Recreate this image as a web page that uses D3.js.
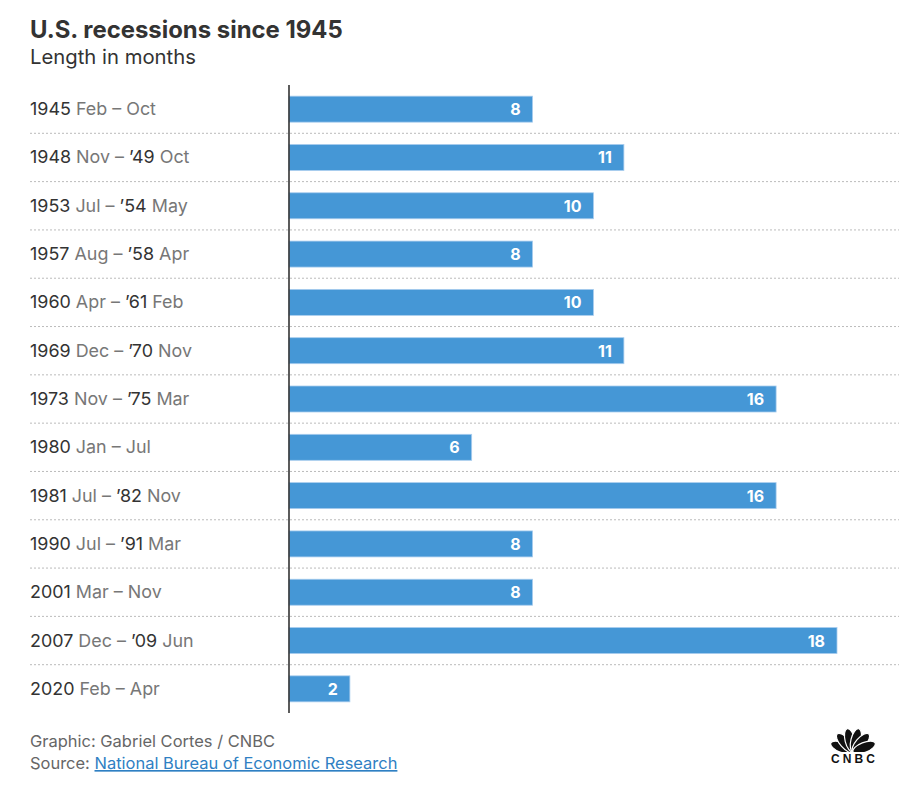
<!DOCTYPE html>
<html><head><meta charset="utf-8">
<script src="https://cdn.jsdelivr.net/npm/d3@7"></script>
<style>body{margin:0;background:#fff;} svg{display:block;font-family:Inter,"Open Sans",sans-serif;}</style>
</head><body>
<svg id="chart" width="899" height="800"></svg>
<script>
const startYears = ["1945","1948","1953","1957","1960","1969","1973","1980","1981","1990","2001","2007","2020"];
const startMonths = ["Feb","Nov","Jul","Aug","Apr","Dec","Nov","Jan","Jul","Jul","Mar","Dec","Feb"];
const endYears = ["","’49","’54","’58","’61","’70","’75","","’82","’91","","’09",""];
const endMonths = ["Oct","Oct","May","Apr","Feb","Nov","Mar","Jul","Nov","Mar","Nov","Jun","Apr"];
const months = [8,11,10,8,10,11,16,6,16,8,8,18,2];

const svg = d3.select("#chart");
const x = d3.scaleLinear().domain([0,18]).range([289,837]);
const y = d3.scaleBand().domain(d3.range(months.length)).range([85,713]).paddingInner(0).paddingOuter(0);
const barH = 26;

function fitWidth(sel, w){
  const n = sel.node(); const cur = n.getComputedTextLength();
  const fs = +sel.attr("font-size");
  sel.attr("font-size", fs*w/cur);
}

const title = svg.append("text").attr("x",30).attr("y",38).attr("font-size",22).attr("font-weight",700).attr("fill","#333").text("U.S. recessions since 1945");
fitWidth(title, 313);
const sub = svg.append("text").attr("x",30).attr("y",64).attr("font-size",18).attr("fill","#333").text("Length in months");
fitWidth(sub, 166);

// separators
svg.selectAll("line.sep").data(d3.range(months.length-1)).join("line")
  .attr("x1",30).attr("x2",899)
  .attr("y1",i=>y(i)+y.bandwidth()).attr("y2",i=>y(i)+y.bandwidth())
  .attr("stroke","#bbb").attr("stroke-dasharray","2,2").attr("stroke-width",1);

// bars
svg.selectAll("rect.bar").data(months).join("rect")
  .attr("x",x(0)).attr("y",(d,i)=>y(i)+y.bandwidth()/2-barH/2)
  .attr("width",d=>x(d)-x(0)).attr("height",barH)
  .attr("fill","#4597d6").attr("stroke","#a9cdee").attr("stroke-width",0.8);

svg.selectAll("text.val").data(months).join("text")
  .attr("x",d=>x(d)-12).attr("y",(d,i)=>y(i)+y.bandwidth()/2+6)
  .attr("text-anchor","end").attr("font-size",16).attr("font-weight",700).attr("fill","#fff").text(d=>d);

// labels
const labSize = (()=>{
  const t = svg.append("text").attr("font-size",16).text("1945 Feb – Oct");
  const w = t.node().getComputedTextLength(); t.remove(); return 16*126/w;
})();
const lab = svg.selectAll("text.lab").data(months).join("text")
  .attr("x",30).attr("y",(d,i)=>y(i)+y.bandwidth()/2+6).attr("font-size",labSize);
lab.each(function(d,i){
  const t = d3.select(this);
  t.append("tspan").attr("fill","#333").text(startYears[i]+" ");
  t.append("tspan").attr("fill","#777").text(startMonths[i]+" – ");
  if(endYears[i]) t.append("tspan").attr("fill","#333").text(endYears[i]+" ");
  t.append("tspan").attr("fill","#777").text(endMonths[i]);
});

// axis line
svg.append("line").attr("x1",x(0)).attr("x2",x(0)).attr("y1",85).attr("y2",713).attr("stroke","#333").attr("stroke-width",1.6);

// footer
const g1 = svg.append("text").attr("x",30).attr("y",747).attr("font-size",15).attr("fill","#666").text("Graphic: Gabriel Cortes / CNBC");
fitWidth(g1, 245);
const src = svg.append("text").attr("x",30).attr("y",769).attr("font-size",+g1.attr("font-size")).attr("fill","#666");
src.append("tspan").text("Source: ");
src.append("tspan").attr("fill","#2f80c3").attr("text-decoration","underline").text("National Bureau of Economic Research");

// CNBC logo (simplified peacock)
const logo = svg.append("g").attr("transform","translate(853,752)");
const angles = [-68,-41,-14,14,41,68];
angles.forEach(a=>{
  logo.append("ellipse").attr("cx",0).attr("cy",-12).attr("rx",5).attr("ry",12)
    .attr("transform",`rotate(${a})`).attr("fill","#111").attr("stroke","#fff").attr("stroke-width",1.2);
});
logo.append("rect").attr("x",-25).attr("y",0).attr("width",50).attr("height",14).attr("fill","#fff");
logo.append("text").attr("x",0).attr("y",11).attr("text-anchor","middle").attr("font-size",12).attr("font-weight",900)
  .attr("font-family","'Liberation Sans',Arial,sans-serif").attr("fill","#111").attr("textLength",44).text("CNBC");
</script>
</body></html>
